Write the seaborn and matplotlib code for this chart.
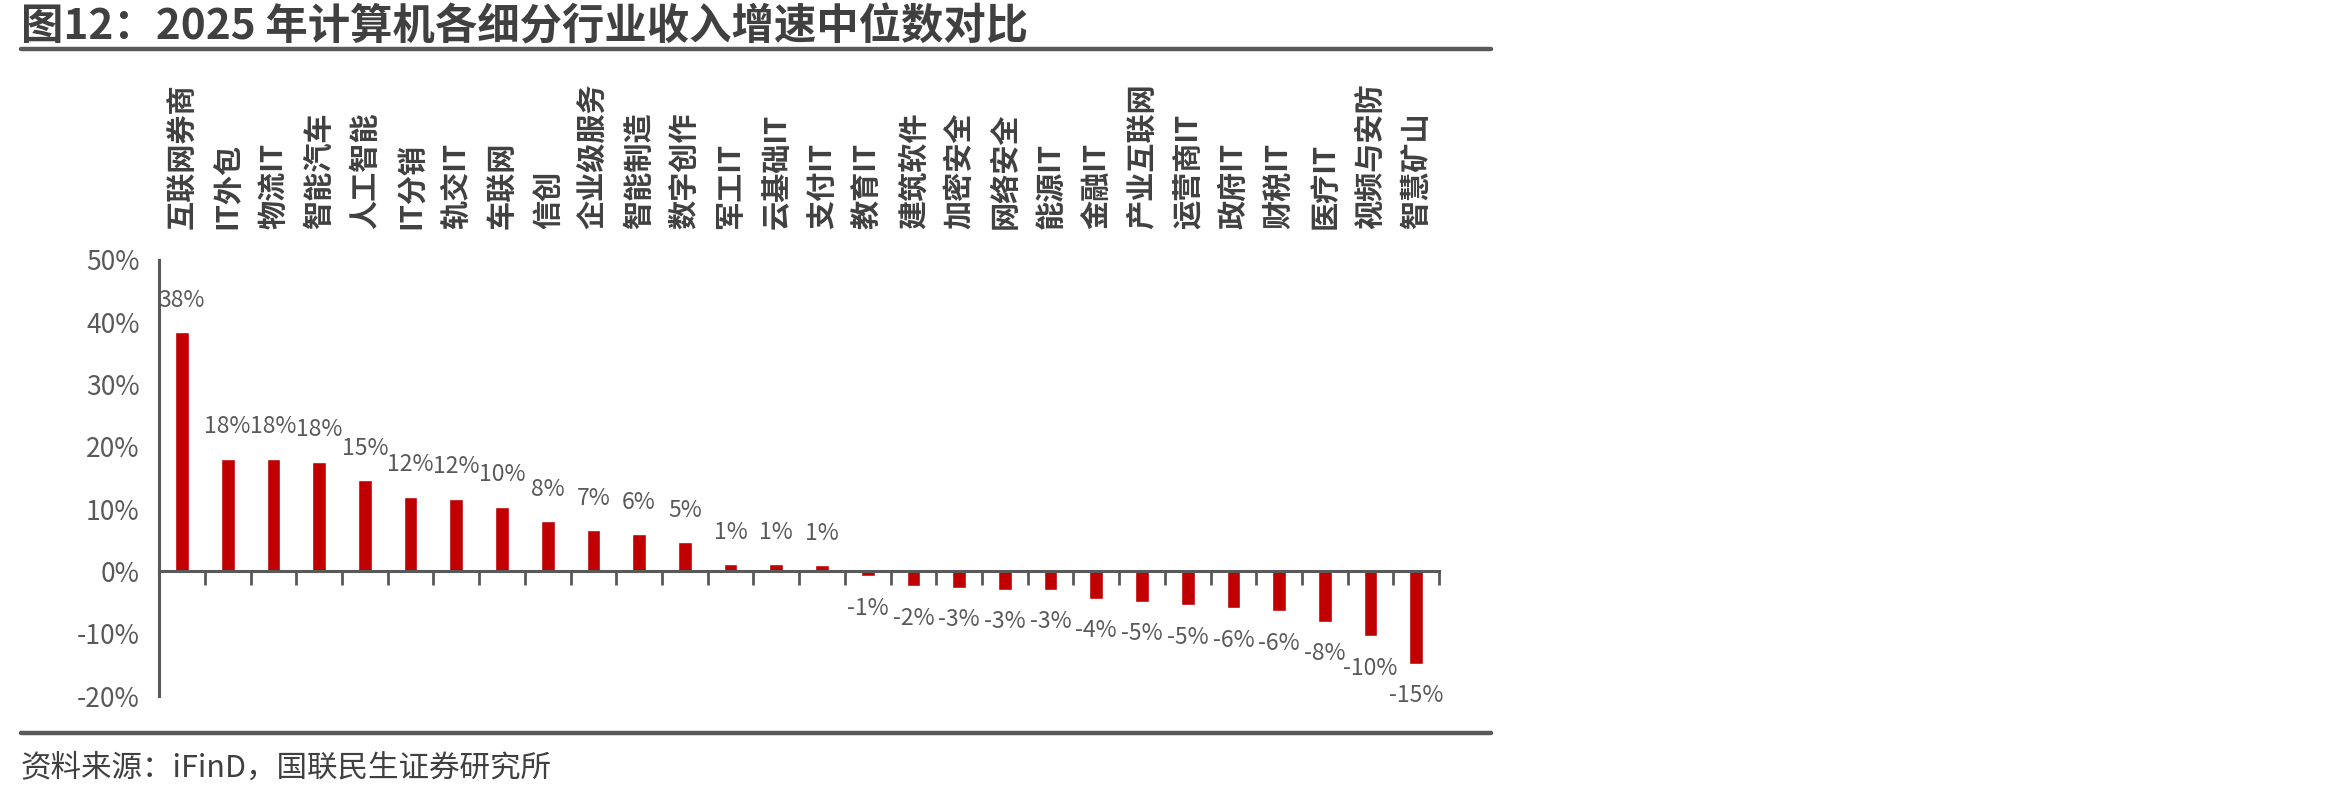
import numpy as np
import matplotlib
matplotlib.use('Agg')
import matplotlib.pyplot as plt
import seaborn as sns
from matplotlib.lines import Line2D
from matplotlib.ticker import FuncFormatter

# data
categories = ['互联网券商', 'IT外包', '物流IT', '智能汽车', '人工智能', 'IT分销', '轨交IT',
              '车联网', '信创', '企业级服务', '智能制造', '数字创作', '军工IT', '云基础IT',
              '支付IT', '教育IT', '建筑软件', '加密安全', '网络安全', '能源IT', '金融IT',
              '产业互联网', '运营商IT', '政府IT', '财税IT', '医疗IT', '视频与安防', '智慧矿山']
growth = [0.384, 0.181, 0.181, 0.176, 0.146, 0.120, 0.117, 0.104, 0.081, 0.066, 0.060,
          0.047, 0.012, 0.012, 0.010, -0.008, -0.024, -0.026, -0.029, -0.029, -0.044,
          -0.049, -0.054, -0.059, -0.064, -0.081, -0.104, -0.148]
yticks = [-0.2, -0.1, 0.0, 0.1, 0.2, 0.3, 0.4, 0.5]

title = '图12：2025 年计算机各细分行业收入增速中位数对比'
source = '资料来源：iFinD，国联民生证券研究所'

sns.set_style('white')
plt.rcParams['font.family'] = ['Noto Sans CJK SC', 'DejaVu Sans']
plt.rcParams['axes.unicode_minus'] = False

grey = '#595959'
dark = '#404040'
red = '#C00000'

fig = plt.figure(figsize=(23.26, 7.96), dpi=100)
ax = fig.add_axes([0.0684, 0.1256, 0.5503, 0.5478])

sns.barplot(x=categories, y=growth, color=red, width=0.3, saturation=1, ax=ax)

n = len(categories)
ax.set_xlim(-0.5, n - 0.5)
ax.set_ylim(-0.2, 0.5)
ax.set_yticks(yticks)
ax.yaxis.set_major_formatter(FuncFormatter(lambda v, p: f'{v * 100:.0f}%'))
ax.tick_params(axis='y', direction='out', length=8, width=2, color=grey,
               labelcolor=grey, labelsize=19, pad=6)

# boundary ticks on the zero line, no labels there
ax.set_xticks([])
ax.set_xticks(np.arange(-0.5, n), minor=True)
ax.tick_params(axis='x', which='minor', bottom=True, top=False, direction='out',
               length=10, width=2, color=grey, labelbottom=False)

# category names above the plot, read bottom to top
for i, name in enumerate(categories):
    ax.annotate(name, (i, 1.0), xycoords=('data', 'axes fraction'),
                xytext=(0, 22), textcoords='offset points', rotation=90,
                ha='center', va='bottom', fontsize=21, fontweight='bold', color=dark)

for s in ['top', 'right']:
    ax.spines[s].set_visible(False)
ax.spines['bottom'].set_position(('data', 0))
ax.spines['bottom'].set_color(grey)
ax.spines['bottom'].set_linewidth(2.2)
ax.spines['left'].set_color(grey)
ax.spines['left'].set_linewidth(2.2)
ax.set_xlabel('')
ax.set_ylabel('')

# value labels
for i, v in enumerate(growth):
    off = 23 if v >= 0 else -23
    ax.annotate(f'{v * 100:.0f}%', (i, v), xytext=(0, off), textcoords='offset points',
                ha='center', va='center', fontsize=16.5, color=grey)

# title, rules and source
fig.text(0.009, 0.966, title, fontsize=30.5, fontweight='bold', color=dark,
         ha='left', va='center')
fig.add_artist(Line2D([0.009, 0.641], [0.938, 0.938], color=grey, linewidth=3.2))
fig.add_artist(Line2D([0.009, 0.641], [0.079, 0.079], color=grey, linewidth=3.2))
fig.text(0.009, 0.035, source, fontsize=22, color=dark, ha='left', va='center')

plt.savefig('out.png', dpi=100)
